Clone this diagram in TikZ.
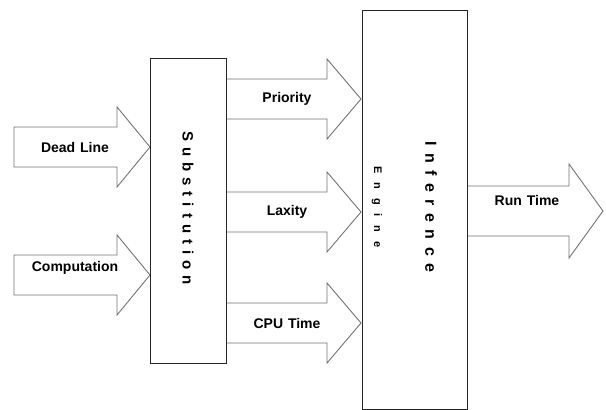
\documentclass[tikz,border=0pt]{standalone}
\usepackage{fontspec}
\setmainfont{Liberation Sans}
\begin{document}
\begin{tikzpicture}[x=1pt,y=-1pt,
  blockbox/.style={draw=black!85,line width=0.9pt,fill=white},
  blockarrow/.style={draw=black!55,line width=0.9pt,fill=white,line join=miter},
  lbl/.style={font=\bfseries\fontsize{14}{16}\selectfont,inner sep=0pt},
  vlbl/.style={font=\bfseries\fontsize{15}{17}\selectfont,inner sep=0pt,rotate=-90}]
\useasboundingbox (0,0) rectangle (606,410);
% arrow macro: #1 x0, #2 head base x, #3 tip x, #4 centre y, #5 shaft half, #6 head half
\newcommand{\blkarrow}[6]{%
  \draw[blockarrow] (#1,#4-#5) -- (#2,#4-#5) -- (#2,#4-#6) -- (#3,#4) -- (#2,#4+#6) -- (#2,#4+#5) -- (#1,#4+#5) -- cycle;}
% arrows
\blkarrow{14}{117}{150}{147}{20}{40}
\blkarrow{14}{117}{150}{275}{20}{40}
\blkarrow{226}{327}{361}{99}{20}{40}
\blkarrow{226}{327}{361}{212}{20}{40}
\blkarrow{226}{327}{361}{323}{20}{40}
\blkarrow{467}{569}{603}{211}{25}{47}
% boxes
\node[blockbox,minimum width=76pt,minimum height=305pt,anchor=north west,inner sep=0pt] (sub) at (150,58) {};
\node[blockbox,minimum width=105pt,minimum height=399pt,anchor=north west,inner sep=0pt] (inf) at (362,10) {};
% labels
\node[lbl] (dead) at (75,147) {Dead\kern1pt\ Line};
\node[lbl] (comp) at (75,268) {Computation};
\node[lbl] (prio) at (287,99) {Priority};
\node[lbl] (lax) at (287,212) {Laxity};
\node[lbl] (cpu) at (287,323) {CPU\kern1pt\ Time};
\node[lbl] (run) at (527,200) {Run\kern1pt\ Time};
\node[vlbl] (subt) at (188,208) {S\kern6pt u\kern6pt b\kern6pt s\kern6pt t\kern6pt i\kern6pt t\kern6pt u\kern6pt t\kern6pt i\kern6pt o\kern6pt n};
\node[vlbl,font=\bfseries\fontsize{16}{18}\selectfont] (inft) at (431,207) {I\kern7.5pt n\kern7.5pt f\kern7.5pt e\kern7.5pt r\kern7.5pt e\kern7.5pt n\kern7.5pt c\kern7.5pt e};
\node[vlbl,font=\bfseries\fontsize{11}{13}\selectfont] (eng) at (377,207) {E\kern9pt n\kern9pt g\kern9pt i\kern9pt n\kern9pt e};
\end{tikzpicture}
\end{document}
